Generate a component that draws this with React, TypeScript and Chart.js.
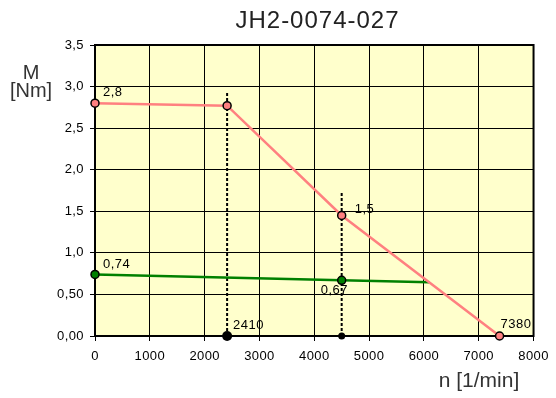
import React, { useEffect, useRef } from 'react';
import { Chart, registerables } from 'chart.js';

Chart.register(...registerables);

const TITLE = 'JH2-0074-027';
const Y_TITLE = ['M', '[Nm]'];
const X_TITLE = 'n [1/min]';

// Peak torque curve
const peakSpeed = [0, 2410, 4500, 7380];
const peakTorque = [2.8, 2.77, 1.45, 0];
const peakLabels = ['2,8', '', '1,5', '7380'];

// Continuous torque curve
const contSpeed = [0, 4500, 6100];
const contTorque = [0.74, 0.67, 0.645];
const contMarked = [true, true, false];
const contLabels = ['0,74', '0,67', ''];

// Dotted guide lines
const guideSpeed = [2410, 4500];
const guideTop = [2.93, 1.72];
const guideLabels = ['2410', ''];

// Axes
const X_MIN = 0;
const X_MAX = 8000;
const X_STEP = 1000;
const Y_MIN = 0;
const Y_MAX = 3.5;
const Y_STEP = 0.5;
const yTickLabels = ['0,00', '0,50', '1,0', '1,5', '2,0', '2,5', '3,0', '3,5'];

const FONT = '"Liberation Sans", Arial, sans-serif';
const PINK = '#FF8080';
const GREEN = '#008000';

export default function App() {
  const ref = useRef<HTMLCanvasElement | null>(null);

  useEffect(() => {
    if (!ref.current) return;

    const peakOffsets = [
      [8, -7],
      [0, 0],
      [13, -2],
      [1, -8],
    ];
    const contOffsets = [
      [8, -6],
      [-21, 14],
      [0, 0],
    ];
    const guideOffsets = [
      [6, -7],
      [0, 0],
    ];

    const decor = {
      id: 'decor',
      beforeDraw(chart: any) {
        const { ctx, chartArea: a } = chart;
        ctx.save();
        ctx.fillStyle = '#ffffff';
        ctx.fillRect(0, 0, chart.width, chart.height);
        ctx.fillStyle = '#FFFFCC';
        ctx.fillRect(a.left, a.top, a.right - a.left, a.bottom - a.top);
        ctx.restore();
        (ctx as any).letterSpacing = '0.4px';
      },
      beforeDatasetsDraw(chart: any) {
        const { ctx, chartArea: a } = chart;
        ctx.save();
        ctx.strokeStyle = '#000';
        ctx.lineWidth = 2;
        ctx.strokeRect(a.left, a.top, a.right - a.left, a.bottom - a.top);
        ctx.restore();
      },
      afterDraw(chart: any) {
        const { ctx } = chart;
        const xs = chart.scales.x;
        const ys = chart.scales.y;
        ctx.save();
        ctx.fillStyle = '#000';
        ctx.textBaseline = 'alphabetic';

        // Title
        ctx.font = `24px ${FONT}`;
        (ctx as any).letterSpacing = '1px';
        ctx.textAlign = 'center';
        ctx.fillStyle = '#222';
        ctx.fillText(TITLE, 317.5, 28);

        // Axis titles
        (ctx as any).letterSpacing = '0px';
        ctx.font = `20px ${FONT}`;
        ctx.fillStyle = '#333';
        ctx.fillText(Y_TITLE[0], 31, 79);
        ctx.fillText(Y_TITLE[1], 31, 97);
        ctx.font = `21px ${FONT}`;
        ctx.fillText(X_TITLE, 479, 387);

        // Point labels
        ctx.fillStyle = '#000';
        ctx.font = `13px ${FONT}`;
        (ctx as any).letterSpacing = '0.5px';
        ctx.textAlign = 'left';
        const put = (x: number, y: number, t: string, off: number[]) => {
          if (!t) return;
          ctx.fillText(t, xs.getPixelForValue(x) + off[0], ys.getPixelForValue(y) + off[1]);
        };
        peakLabels.forEach((t, i) => put(peakSpeed[i], peakTorque[i], t, peakOffsets[i]));
        contLabels.forEach((t, i) => put(contSpeed[i], contTorque[i], t, contOffsets[i]));
        guideLabels.forEach((t, i) => put(guideSpeed[i], 0, t, guideOffsets[i]));
        ctx.restore();
      },
    };

    const guideSets = guideSpeed.map((s, i) => ({
      data: [
        { x: s, y: 0 },
        { x: s, y: guideTop[i] },
      ],
      showLine: true,
      borderColor: '#000',
      borderWidth: 2,
      borderDash: [3, 2],
      pointRadius: [i === 0 ? 5 : 3.5, 0],
      pointBackgroundColor: '#000',
      pointBorderColor: '#000',
      pointBorderWidth: 0,
      clip: false as any,
    }));

    const chart = new Chart(ref.current, {
      type: 'scatter',
      data: {
        datasets: [
          {
            data: peakSpeed.map((x, i) => ({ x, y: peakTorque[i] })),
            showLine: true,
            borderColor: PINK,
            borderWidth: 2.5,
            pointRadius: 4,
            pointBackgroundColor: PINK,
            pointBorderColor: '#000',
            pointBorderWidth: 1.5,
            clip: false as any,
          },
          {
            data: contSpeed.map((x, i) => ({ x, y: contTorque[i] })),
            showLine: true,
            borderColor: GREEN,
            borderWidth: 2.5,
            pointRadius: contMarked.map((m) => (m ? 4 : 0)),
            pointBackgroundColor: GREEN,
            pointBorderColor: '#000',
            pointBorderWidth: 1.5,
            clip: false as any,
          },
          ...guideSets,
        ],
      },
      options: {
        animation: false,
        responsive: false,
        devicePixelRatio: 1,
        layout: { padding: { left: 0, top: 45, right: 18, bottom: 0 } },
        plugins: {
          legend: { display: false },
          tooltip: { enabled: false },
          title: { display: false },
        },
        scales: {
          x: {
            type: 'linear',
            min: X_MIN,
            max: X_MAX,
            afterFit: (s: any) => {
              s.height = 62;
            },
            ticks: {
              stepSize: X_STEP,
              autoSkip: false,
              maxRotation: 0,
              color: '#000',
              padding: 8,
              font: { family: FONT, size: 13 },
              callback: (v: any) => String(v),
            },
            grid: { color: '#000', lineWidth: 1, tickLength: 5 },
            border: { color: '#000', width: 2 },
          },
          y: {
            type: 'linear',
            min: Y_MIN,
            max: Y_MAX,
            afterFit: (s: any) => {
              s.width = 95;
            },
            ticks: {
              stepSize: Y_STEP,
              autoSkip: false,
              color: '#000',
              padding: 6,
              font: { family: FONT, size: 13 },
              callback: (v: any) => yTickLabels[Math.round((Number(v) - Y_MIN) / Y_STEP)] ?? '',
            },
            grid: { color: '#000', lineWidth: 1, tickLength: 5 },
            border: { color: '#000', width: 2 },
          },
        },
      } as any,
      plugins: [decor],
    });

    return () => chart.destroy();
  }, []);

  return (
    <div style={{ position: 'fixed', left: 0, top: 0, width: 556, height: 398, background: '#fff' }}>
      <canvas ref={ref} width={556} height={398} style={{ width: 556, height: 398, display: 'block' }} />
    </div>
  );
}
